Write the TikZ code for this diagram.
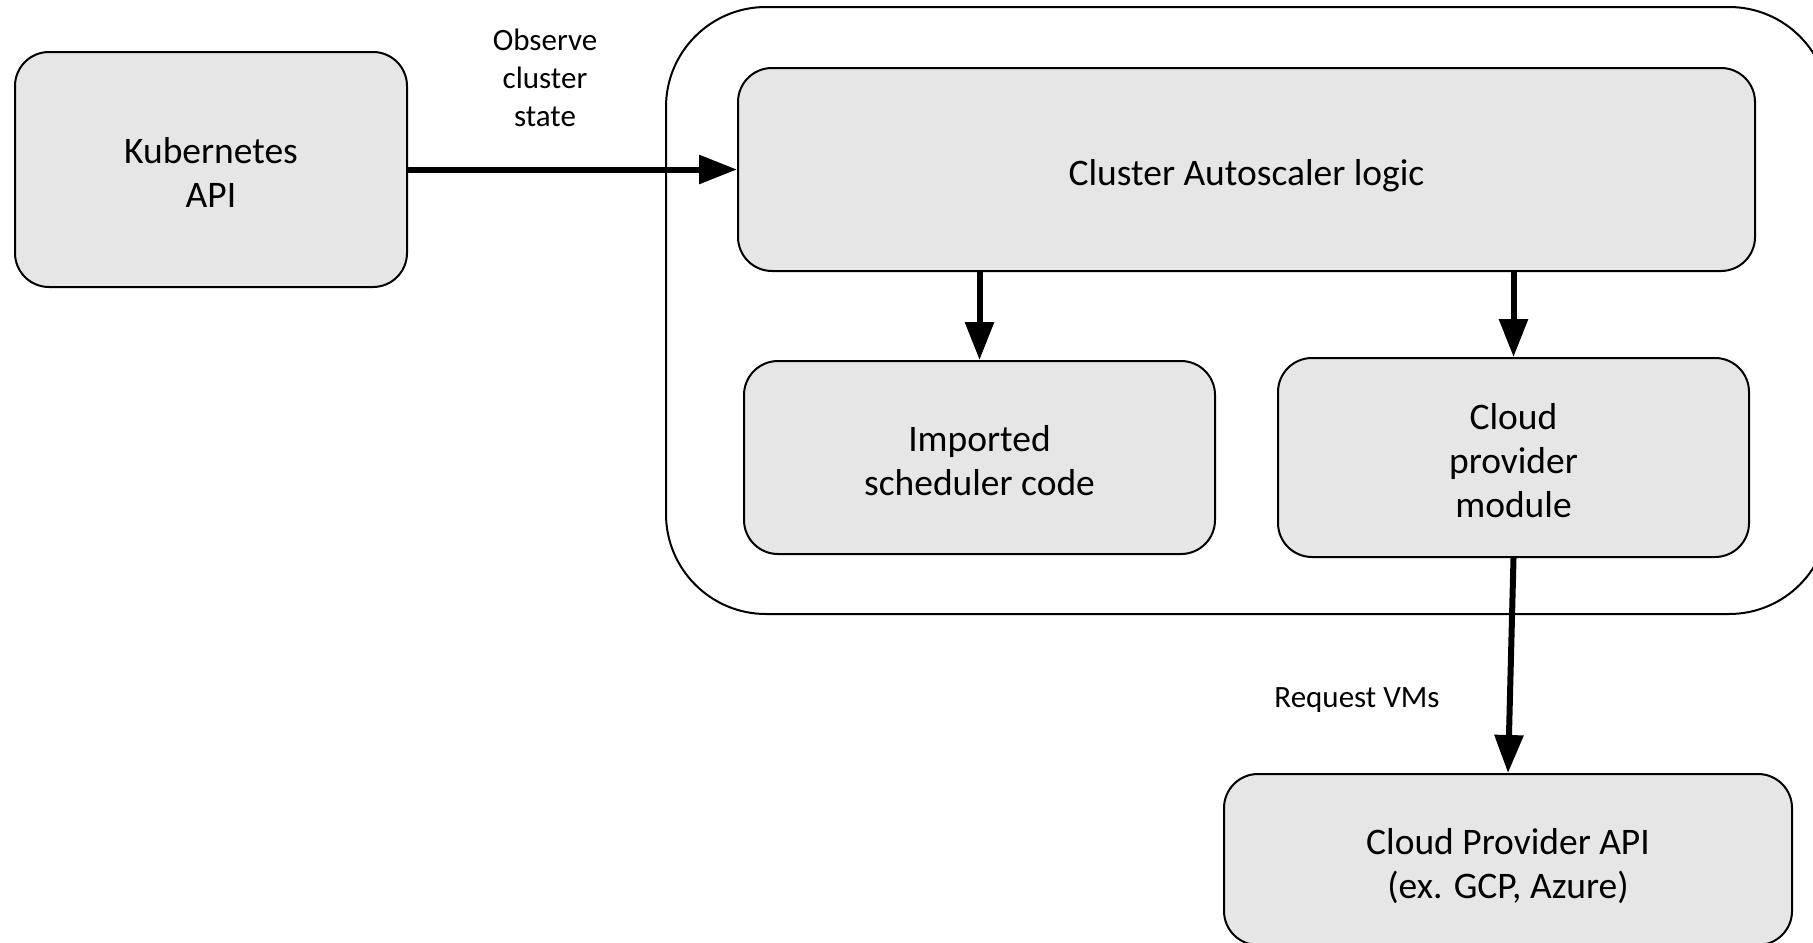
\documentclass[tikz,border=0pt]{standalone}
\usepackage{fontspec}
\setmainfont{Carlito}
\usetikzlibrary{arrows.meta}

\definecolor{boxfill}{RGB}{230,230,230}

\tikzset{
  block/.style={draw=black, line width=1pt, fill=boxfill, rounded corners=17pt,
    inner sep=0pt},
  blocktext/.style={align=center, inner sep=0pt, font=\fontsize{18.75pt}{22pt}\selectfont},
  container/.style={draw=black, line width=1pt, rounded corners=50pt, inner sep=0pt},
  flow/.style={line width=3pt, -{Triangle[length=19pt, width=14pt]}},
  edgelabel/.style={align=center, inner sep=0pt, font=\fontsize{15.5pt}{19pt}\selectfont}
}

\begin{document}
\begin{tikzpicture}[x=0.5pt, y=-0.5pt]
  \useasboundingbox (0,0) rectangle (1813,942);
  \clip (0,0) rectangle (1813,942);

  % autoscaler process boundary (runs past the right edge)
  \node[container, minimum width=581.5pt, minimum height=303.5pt] (cluster) at (1247.5,310.5) {};

  % components
  \node[block, minimum width=196pt, minimum height=117.5pt] (kube) at (211,169.5) {};
  \node[block, minimum width=508.5pt, minimum height=101.5pt] (ca) at (1246.5,169.5) {};
  \node[block, minimum width=235.5pt, minimum height=96.5pt] (imp) at (979.5,457.5) {};
  \node[block, minimum width=235.5pt, minimum height=99.5pt] (cpm) at (1513.5,457.5) {};
  \node[block, minimum width=284pt, minimum height=85.5pt] (api) at (1508,859.5) {};

  % component titles
  \node[blocktext] (kubetext) at ([yshift=-1.5pt]kube.center) {Kubernetes\\API};
  \node[blocktext] (catext) at ([yshift=-3pt]ca.center) {Cluster Autoscaler logic};
  \node[blocktext] (imptext) at ([yshift=-1.75pt]imp.center) {Imported\\scheduler code};
  \node[blocktext] (cpmtext) at ([yshift=-1.75pt]cpm.center) {Cloud\\provider\\module};
  \node[blocktext] (apitext) at ([yshift=-3.5pt]api.center) {Cloud Provider API\\(ex. GCP, Azure)};

  % data flow
  \draw[flow] (kube.east) -- (ca.west);
  \draw[flow] (imp.north |- ca.south) -- (imp.north);
  \draw[flow] (cpm.north |- ca.south) -- (cpm.north);
  \draw[flow] (cpm.south) -- (api.north);

  % connector labels
  \node[edgelabel] (observe) at (545,78) {Observe\\cluster\\state};
  \node[edgelabel] (request) at (1357,700.5) {Request VMs};
\end{tikzpicture}
\end{document}
